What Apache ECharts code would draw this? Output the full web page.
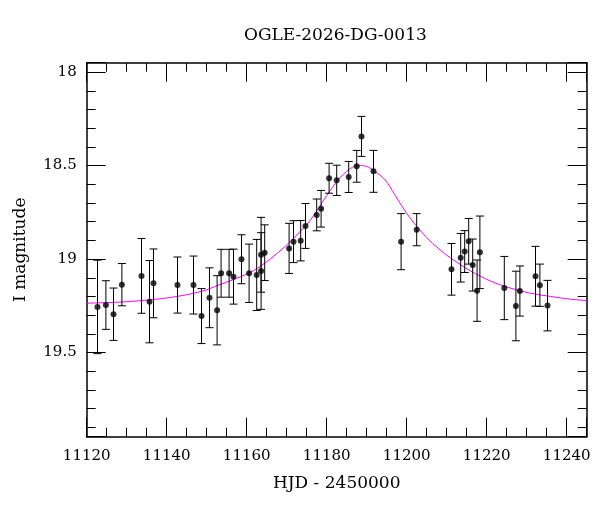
<!DOCTYPE html>
<html>
<head>
<meta charset="utf-8">
<script src="https://cdn.jsdelivr.net/npm/echarts@6/dist/echarts.min.js"></script>
<style>
  html, body { margin: 0; padding: 0; background: #fff; }
  #chart { width: 600px; height: 512px; }
</style>
</head>
<body>
<div id="chart"></div>
<script>
// Observaciones: HJD - 2450000, magnitud I y su error
const hjd = [
  11122.7, 11124.8, 11126.7, 11128.8, 11133.7, 11135.7, 11136.7, 11142.7,
  11146.7, 11148.7, 11150.7, 11152.6, 11153.6, 11155.6, 11156.7, 11158.7,
  11160.6, 11162.5, 11163.6, 11163.6, 11164.5, 11170.6, 11171.7, 11173.5,
  11174.7, 11177.5, 11178.6, 11180.6, 11182.5, 11185.5, 11187.5, 11188.7,
  11191.7, 11198.6, 11202.5, 11211.2, 11213.5, 11214.5, 11215.5, 11216.5,
  11217.6, 11218.3, 11224.4, 11227.3, 11228.3, 11232.2, 11233.3, 11235.2
];
const mag = [
  19.256, 19.246, 19.295, 19.137, 19.090, 19.228, 19.130, 19.139,
  19.139, 19.305, 19.207, 19.274, 19.076, 19.076, 19.094, 19.001,
  19.076, 19.085, 19.064, 18.977, 18.966, 18.943, 18.907, 18.902,
  18.823, 18.764, 18.731, 18.568, 18.579, 18.561, 18.504, 18.344,
  18.531, 18.907, 18.843, 19.055, 18.993, 18.960, 18.905, 19.032,
  19.169, 18.964, 19.155, 19.251, 19.171, 19.092, 19.140, 19.249
];
const magErr = [
  0.250, 0.130, 0.140, 0.113, 0.200, 0.220, 0.184, 0.150,
  0.155, 0.147, 0.160, 0.185, 0.128, 0.128, 0.147, 0.131,
  0.156, 0.190, 0.205, 0.200, 0.149, 0.134, 0.112, 0.108,
  0.120, 0.085, 0.098, 0.080, 0.081, 0.083, 0.085, 0.107,
  0.112, 0.150, 0.086, 0.138, 0.130, 0.112, 0.122, 0.139,
  0.164, 0.194, 0.169, 0.186, 0.134, 0.160, 0.113, 0.135
];

const modelHjd = [
  11120, 11130, 11141, 11149, 11153, 11157.5, 11161.7, 11165.8, 11170,
  11173.3, 11176, 11180, 11182.5, 11184, 11186, 11188, 11190, 11192,
  11194.6, 11197, 11198.75, 11201, 11205, 11208, 11211, 11216, 11221,
  11226, 11231, 11236, 11241, 11245
];
const modelMag = [
  19.236, 19.228, 19.205, 19.171, 19.139, 19.103, 19.062, 19.001, 18.925,
  18.854, 18.790, 18.660, 18.586, 18.550, 18.515, 18.500, 18.505, 18.530,
  18.577, 18.655, 18.715, 18.785, 18.885, 18.945, 18.995, 19.064, 19.118,
  19.156, 19.183, 19.200, 19.215, 19.222
];

const FONT = 'DejaVu Serif';
const xRange = [11120, 11245];
const yRange = [17.95, 19.95];

const points = hjd.map((x, i) => [x, mag[i], magErr[i]]);
const model = modelHjd.map((x, i) => [x, modelMag[i]]);

function ejeX(pos, labels) {
  return {
    type: 'value',
    position: pos,
    min: xRange[0],
    max: xRange[1],
    interval: 20,
    name: labels ? 'HJD - 2450000' : '',
    nameLocation: 'middle',
    nameGap: 38,
    nameTextStyle: { fontFamily: FONT, fontSize: 17, color: '#000' },
    axisLine: { show: true, onZero: false, lineStyle: { color: '#000', width: 1.5 } },
    axisTick: { show: true, inside: true, length: 19, lineStyle: { color: '#000', width: 1 } },
    minorTick: { show: true, splitNumber: 4, length: 9, lineStyle: { color: '#000', width: 1 } },
    splitLine: { show: false },
    minorSplitLine: { show: false },
    axisLabel: {
      show: labels,
      margin: 12,
      fontFamily: FONT,
      fontSize: 15,
      color: '#000',
      formatter: v => (Math.abs(v % 20) < 1e-6 ? String(v) : '')
    }
  };
}

function ejeY(pos, labels) {
  return {
    type: 'value',
    position: pos,
    inverse: true,
    min: yRange[0],
    max: yRange[1],
    name: labels ? 'I magnitude' : '',
    nameLocation: 'middle',
    nameGap: 58,
    nameTextStyle: { fontFamily: FONT, fontSize: 17, color: '#000' },
    axisLine: { show: true, onZero: false, lineStyle: { color: '#000', width: 1.5 } },
    axisTick: { show: true, inside: true, length: 19, lineStyle: { color: '#000', width: 1 } },
    minorTick: { show: true, splitNumber: 5, length: 9, lineStyle: { color: '#000', width: 1 } },
    splitLine: { show: false },
    minorSplitLine: { show: false },
    axisLabel: {
      show: labels,
      margin: 10,
      fontFamily: FONT,
      fontSize: 15,
      color: '#000',
      formatter: v => (Math.abs(v * 2 - Math.round(v * 2)) < 1e-6 ? String(v) : '')
    }
  };
}

const option = {
  backgroundColor: '#fff',
  animation: false,
  title: {
    text: 'OGLE-2026-DG-0013',
    left: 244,
    top: 27,
    padding: 0,
    textStyle: { fontFamily: FONT, fontSize: 17, fontWeight: 'normal', color: '#000' }
  },
  grid: { left: 86.7, right: 13.3, top: 62.7, bottom: 75.3, containLabel: false },
  xAxis: [ejeX('bottom', true), ejeX('top', false)],
  yAxis: [ejeY('left', true), ejeY('right', false)],
  series: [
    {
      type: 'line',
      data: model,
      smooth: 0.35,
      showSymbol: false,
      lineStyle: { color: '#ff00ff', width: 1 },
      z: 2
    },
    {
      type: 'custom',
      data: points,
      renderItem: function (params, api) {
        const x = api.value(0), y = api.value(1), e = api.value(2);
        const top = api.coord([x, y - e]);
        const bot = api.coord([x, y + e]);
        const h = 4;
        const st = { stroke: '#000', lineWidth: 1 };
        return {
          type: 'group',
          children: [
            { type: 'line', shape: { x1: top[0], y1: top[1], x2: bot[0], y2: bot[1] }, style: st },
            { type: 'line', shape: { x1: top[0] - h, y1: top[1], x2: top[0] + h, y2: top[1] }, style: st },
            { type: 'line', shape: { x1: bot[0] - h, y1: bot[1], x2: bot[0] + h, y2: bot[1] }, style: st }
          ]
        };
      },
      z: 3
    },
    {
      type: 'scatter',
      data: points.map(p => [p[0], p[1]]),
      symbolSize: 6,
      itemStyle: { color: '#000' },
      z: 4
    }
  ]
};

const chart = echarts.init(document.getElementById('chart'));
chart.setOption(option);
</script>
</body>
</html>
